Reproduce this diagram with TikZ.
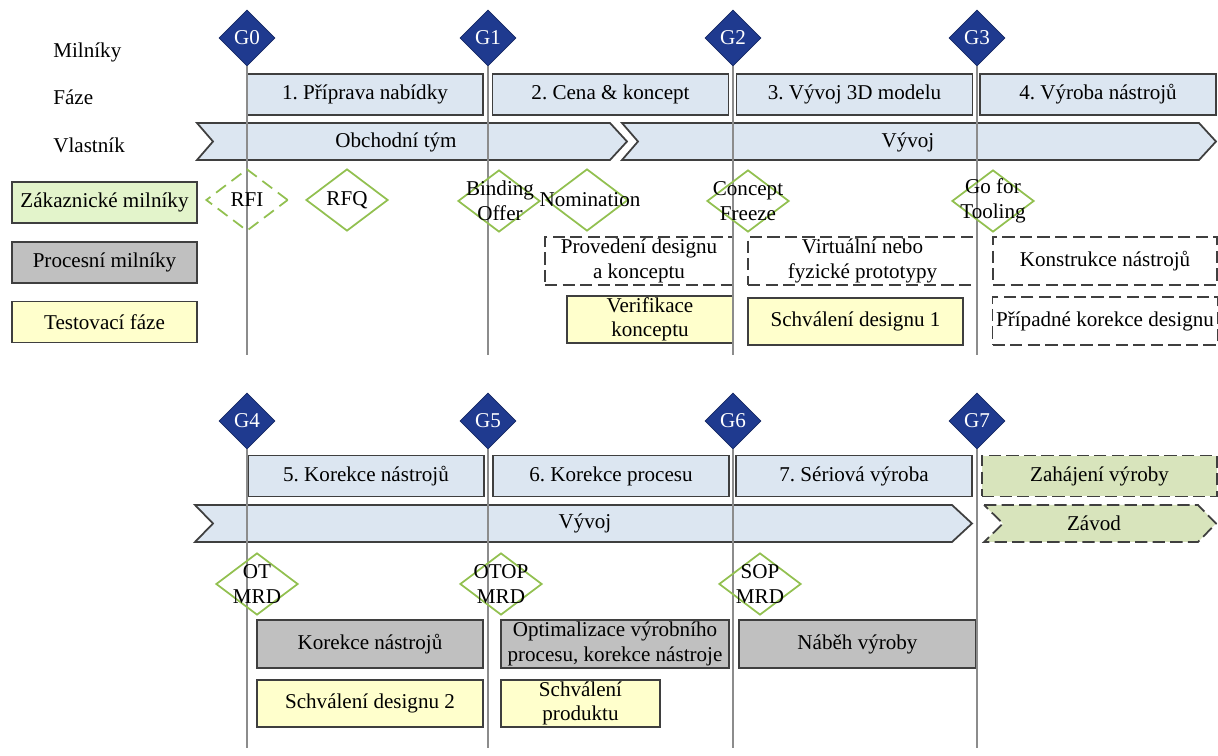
\documentclass[tikz,border=0pt]{standalone}
\usepackage{fontspec}
\setmainfont{Liberation Serif}
\usepackage{tikz}
\usetikzlibrary{positioning,shapes.geometric}
\frenchspacing

\definecolor{gatenavy}{HTML}{1F3A8F}
\definecolor{phasefill}{HTML}{DCE6F1}
\definecolor{boxline}{HTML}{3F3F3F}
\definecolor{custgreen}{HTML}{92C050}
\definecolor{custfill}{HTML}{E3F4CB}
\definecolor{procfill}{HTML}{C0C0C0}
\definecolor{testfill}{HTML}{FFFFCC}
\definecolor{plantfill}{HTML}{D8E4BC}
\definecolor{gateline}{HTML}{8C8C8C}

\begin{document}
\begin{tikzpicture}[
    x=0.02cm, y=-0.02cm,
    font=\fontsize{12}{14}\selectfont,
    gate/.style={
        diamond,
        aspect=1,
        fill=gatenavy,
        draw=gatenavy!70!black,
        minimum width=1.12cm,
        minimum height=1.12cm,
        inner sep=0pt,
        text=white
    },
    phase/.style={
        rectangle,
        draw=boxline,
        line width=1pt,
        fill=phasefill,
        minimum width=4.72cm,
        minimum height=0.82cm,
        inner sep=2pt
    },
    owner/.style={
        draw=boxline,
        line width=1pt,
        fill=phasefill
    },
    cust/.style={
        diamond,
        draw=custgreen,
        line width=1pt,
        minimum width=1.64cm,
        minimum height=1.24cm,
        inner sep=0pt
    },
    procbox/.style={
        rectangle,
        draw=boxline,
        line width=1pt,
        fill=procfill,
        minimum height=0.96cm,
        inner xsep=2pt,
        inner ysep=0pt,
        align=center
    },
    workbox/.style={
        rectangle,
        draw=boxline,
        line width=0.9pt,
        dash pattern=on 7pt off 3pt,
        minimum height=0.96cm,
        inner xsep=2pt,
        inner ysep=0pt,
        align=center
    },
    testbox/.style={
        rectangle,
        draw=boxline,
        line width=1pt,
        fill=testfill,
        minimum height=0.94cm,
        inner xsep=2pt,
        inner ysep=0pt,
        align=center
    },
    legendbox/.style={
        rectangle,
        draw=boxline,
        line width=1pt,
        minimum width=3.7cm,
        minimum height=0.82cm
    },
    gline/.style={
        draw=gateline,
        line width=0.8pt
    }
]

\useasboundingbox (0,0) rectangle (1218,756);

% row labels and legend
\node[anchor=west,inner sep=0pt] (lbl-mil) at (53,52) {Milníky};
\node[anchor=west,inner sep=0pt] (lbl-faze) at (53,97) {Fáze};
\node[anchor=west,inner sep=0pt] (lbl-own) at (53,145) {Vlastník};

\node[legendbox,fill=custfill] (leg-cust) at (104.5,202.5) {Zákaznické milníky};
\node[legendbox,fill=procfill,below=0.34cm of leg-cust] (leg-proc) {Procesní milníky};
\node[legendbox,fill=testfill,below=0.34cm of leg-proc] (leg-test) {Testovací fáze};

% owners
\draw[owner] (197,123) -- (610,123) -- (627,141.5) -- (610,160) -- (197,160) -- (213,141.5) -- cycle;
\draw[owner] (622,123) -- (1199,123) -- (1216,141.5) -- (1199,160) -- (622,160) -- (638,141.5) -- cycle;
\node (own1) at (396,142) {Obchodní tým};
\node (own2) at (908,142) {Vývoj};

\draw[owner] (195,505) -- (952,505) -- (972,523.5) -- (952,542) -- (195,542) -- (213,523.5) -- cycle;
\draw[owner,fill=plantfill,dash pattern=on 7pt off 3pt] (984,505) -- (1198,505) -- (1216,523.5) -- (1198,542) -- (984,542) -- (1003,523.5) -- cycle;
\node (own3) at (585,523) {Vývoj};
\node (own4) at (1094,523) {Závod};

% phases
\node[phase] (ph1) at (365,94.5) {1. Příprava nabídky};
\node[phase] (ph2) at (610.5,94.5) {2. Cena \& koncept};
\node[phase] (ph3) at (854.5,94.5) {3. Vývoj 3D modelu};
\node[phase] (ph4) at (1098,94.5) {4. Výroba nástrojů};

\node[phase] (ph5) at (366,476) {5. Korekce nástrojů};
\node[phase] (ph6) at (611,476) {6. Korekce procesu};
\node[phase] (ph7) at (854,476) {7. Sériová výroba};
\node[phase,fill=plantfill,dash pattern=on 7pt off 3pt,minimum width=4.7cm] (ph8) at (1099.5,476) {Zahájení výroby};

% gates
\node[gate] (g0) at (247,38) {G0};
\node[gate] (g1) at (488,38) {G1};
\node[gate] (g2) at (733,38) {G2};
\node[gate] (g3) at (977,38) {G3};
\node[gate] (g4) at (247,421) {G4};
\node[gate] (g5) at (488,421) {G5};
\node[gate] (g6) at (733,421) {G6};
\node[gate] (g7) at (977,421) {G7};

\coordinate (e0) at (247,355);
\coordinate (e1) at (488,355);
\coordinate (e2) at (733,355);
\coordinate (e3) at (977,355);
\coordinate (e4) at (247,748);
\coordinate (e5) at (488,748);
\coordinate (e6) at (733,748);
\coordinate (e7) at (977,748);

% activities
\node[workbox,minimum width=3.76cm] (w1) at (639,261) {Provedení designu\\a konceptu};
\node[workbox,minimum width=4.58cm] (w2) at (862.5,261) {Virtuální nebo\\fyzické prototypy};
\node[workbox,minimum width=4.48cm] (w3) at (1105,261) {Konstrukce nástrojů};
\node[workbox,minimum width=4.48cm] (w4) at (1105,321) {Případné korekce designu};

\node[testbox,minimum width=3.32cm] (t1) at (650,319.5) {Verifikace\\konceptu};
\node[testbox,minimum width=4.3cm] (t2) at (855.5,321.5) {Schválení designu 1};

\node[procbox,minimum width=4.52cm] (p1) at (370,644) {Korekce nástrojů};
\node[procbox,minimum width=4.56cm] (p2) at (615,644) {Optimalizace výrobního\\procesu, korekce nástroje};
\node[procbox,minimum width=4.74cm] (p3) at (857.5,644) {Náběh výroby};

\node[testbox,minimum width=4.52cm] (t3) at (370,703.5) {Schválení designu 2};
\node[testbox,minimum width=3.18cm] (t4) at (580.5,703.5) {Schválení\\produktu};

% gate lines
\draw[gline] (g0.south) -- (e0);
\draw[gline] (g1.south) -- (e1);
\draw[gline] (g2.south) -- (e2);
\draw[gline] (g3.south) -- (e3);
\draw[gline] (g4.south) -- (e4);
\draw[gline] (g5.south) -- (e5);
\draw[gline] (g6.south) -- (e6);
\draw[gline] (g7.south) -- (e7);

% customer milestones
\node[cust,dash pattern=on 7pt off 4pt] (rfi) at (247,200) {};
\node[cust] (rfq) at (347,200) {};
\node[cust] (bind) at (499,201) {};
\node[cust] (nom) at (587,200) {};
\node[cust] (cfrz) at (748,201) {};
\node[cust] (gft) at (993,201) {};
\node[cust] (otmrd) at (257,584) {};
\node[cust] (otop) at (501,584) {};
\node[cust] (sop) at (760,584) {};

\node (rfi-t) at (rfi) {RFI};
\node (rfq-t) at (rfq) {RFQ};
\node[align=center] (bind-t) at (500,201) {Binding\\Offer};
\node (nom-t) at (590,200) {Nomination};
\node[align=center] (cfrz-t) at (cfrz) {Concept\\Freeze};
\node[align=center] (gft-t) at (gft) {Go for\\Tooling};
\node[align=center] (otmrd-t) at (otmrd) {OT\\MRD};
\node[align=center] (otop-t) at (otop) {OTOP\\MRD};
\node[align=center] (sop-t) at (sop) {SOP\\MRD};

\end{tikzpicture}
\end{document}
